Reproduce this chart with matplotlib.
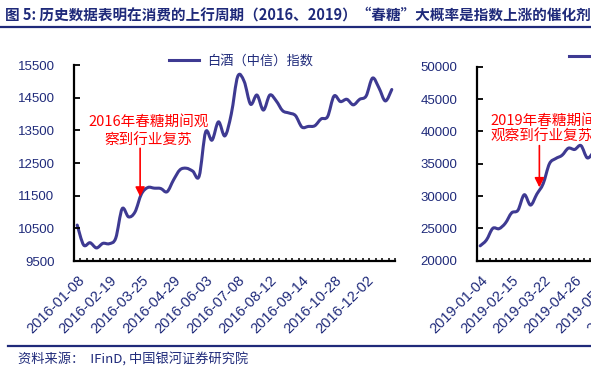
"""Baijiu index around the spring sugar & wine fair, 2016 vs 2019."""

import matplotlib
matplotlib.use("Agg")
import matplotlib.pyplot as plt
from matplotlib.lines import Line2D
from matplotlib.patches import PathPatch
from matplotlib.path import Path
from matplotlib.ticker import FixedLocator, MultipleLocator

NAVY = "#1F2A7A"
LINE = "#3E3A92"
CJK = ["Noto Sans CJK SC", "DejaVu Sans"]

plt.rcParams["font.family"] = ["Liberation Sans", "Noto Sans CJK SC"]

# weekly closes, 2016 (holiday weeks skipped)
idx_2016 = [
    10600, 9990, 10060, 9900, 10040, 10030, 10200, 11100, 10850, 11000,
    11550, 11750, 11730, 11720, 11620, 11980, 12290, 12340, 12250, 12100,
    13450, 13200, 13760, 13330, 14000, 15150, 15000, 14300, 14580, 14120,
    14580, 14400, 14100, 14030, 13950, 13600, 13620, 13640, 13850, 13920,
    14550, 14380, 14450, 14280, 14450, 14550, 15100, 14800, 14400, 14750,
]
labels_2016 = [
    "2016-01-08", "2016-02-19", "2016-03-25", "2016-04-29", "2016-06-03",
    "2016-07-08", "2016-08-12", "2016-09-14", "2016-10-28", "2016-12-02",
]
yticks_2016 = [9500, 10500, 11500, 12500, 13500, 14500, 15500]

# 2019: only the start of the panel is visible
idx_2019 = [
    22300, 23200, 25000, 24950, 25800, 27400, 27800, 30200, 28600, 30300,
    31900, 35000, 35800, 36300, 37400, 37200, 37800, 35900, 36800,
]
labels_2019 = [
    "2019-01-04", "2019-02-15", "2019-03-22", "2019-04-26", "2019-05-31",
    "2019-07-05",
]
yticks_2019 = [20000, 25000, 30000, 35000, 40000, 45000, 50000]
n_weeks = 50

W, H = 591, 372
fig = plt.figure(figsize=(W / 100, H / 100), dpi=100)


def px_box(x0, y_top, x1, y_bot):
    return [x0 / W, 1 - y_bot / H, (x1 - x0) / W, (y_bot - y_top) / H]


def smooth_path(values):
    # Excel-style smoothed line: cubic Bezier through every data point
    pts = list(enumerate(values))
    verts = [pts[0]]
    codes = [Path.MOVETO]
    for i in range(len(pts) - 1):
        p0 = pts[max(i - 1, 0)]
        p1, p2 = pts[i], pts[i + 1]
        p3 = pts[min(i + 2, len(pts) - 1)]
        c1 = (p1[0] + (p2[0] - p0[0]) / 6, p1[1] + (p2[1] - p0[1]) / 6)
        c2 = (p2[0] - (p3[0] - p1[0]) / 6, p2[1] - (p3[1] - p1[1]) / 6)
        verts += [c1, c2, p2]
        codes += [Path.CURVE4] * 3
    return Path(verts, codes)


def style_axes(ax, values, labels, yticks):
    ax.add_patch(PathPatch(smooth_path(values), fill=False, edgecolor=LINE,
                           lw=2.2, capstyle="round", joinstyle="round"))
    ax.set_xlim(-0.5, n_weeks - 0.5)
    ax.set_ylim(yticks[0], yticks[-1])
    for side in ("top", "right"):
        ax.spines[side].set_visible(False)
    for side in ("left", "bottom"):
        ax.spines[side].set_linewidth(1.6)
    ax.yaxis.set_major_locator(FixedLocator(yticks))
    ax.tick_params(axis="y", direction="in", length=4, width=1.3,
                   pad=14, labelsize=9.5, labelcolor=NAVY)
    ax.xaxis.set_major_locator(FixedLocator(range(0, 5 * len(labels), 5)))
    ax.set_xticklabels(labels)
    ax.xaxis.set_minor_locator(MultipleLocator(1, offset=0.5))
    ax.tick_params(axis="x", which="major", length=0, pad=9,
                   labelsize=10.5, labelcolor=NAVY)
    ax.tick_params(axis="x", which="minor", direction="in",
                   length=2.5, width=1.1)
    for t in ax.get_xticklabels():
        t.set_rotation(45)
        t.set_ha("right")
        t.set_va("top")
        t.set_rotation_mode("anchor")


ax1 = fig.add_axes(px_box(74, 65, 395, 261))
style_axes(ax1, idx_2016, labels_2016, yticks_2016)

ax2 = fig.add_axes(px_box(477, 66.7, 792, 260.7))
style_axes(ax2, idx_2019, labels_2019, yticks_2019)

for ax, xc, yc in ((ax1, 0.52, 1.022), (ax2, 0.52, 1.05)):
    handle = Line2D([], [], color=LINE, lw=2.2)
    leg = ax.legend([handle], ["白酒（中信）指数"], loc="center",
                    bbox_to_anchor=(xc, yc), frameon=False, handlelength=2.3,
                    handletextpad=0.6, prop={"family": CJK, "size": 9.5})
    for t in leg.get_texts():
        t.set_color(NAVY)

# annotations
ax1.text(0.232, 0.662, "2016年春糖期间观\n察到行业复苏", transform=ax1.transAxes,
         ha="center", va="center", color="red", fontsize=10.5, family=CJK,
         linespacing=1.4)
ax1.annotate("", xy=(9.8, 11470), xytext=(9.8, 12950),
             arrowprops=dict(arrowstyle="-|>", color="red", lw=1.2,
                             mutation_scale=14, shrinkA=0, shrinkB=0))

ax2.text(0.043, 0.68, "2019年春糖期间\n观察到行业复苏", transform=ax2.transAxes,
         ha="left", va="center", color="red", fontsize=10.5, family=CJK,
         linespacing=1.2)
ax2.annotate("", xy=(9.4, 31340), xytext=(9.4, 37800),
             arrowprops=dict(arrowstyle="-|>", color="red", lw=1.2,
                             mutation_scale=14, shrinkA=0, shrinkB=0))

# header, rules and source
fig.text(5 / W, 1 - 15 / H,
         "图 5: 历史数据表明在消费的上行周期（2016、2019）“春糖”大概率是指数上涨的催化剂",
         ha="left", va="center", fontsize=10.5, fontweight="bold",
         color=NAVY, family=CJK)
fig.add_artist(Line2D([0, 1], [1 - 26.5 / H] * 2, color=NAVY, lw=1.6))
fig.add_artist(Line2D([8 / W, 1], [1 - 346 / H] * 2, color=NAVY, lw=1.6))
fig.text(18 / W, 1 - 360 / H, "资料来源：  IFinD, 中国银河证券研究院",
         ha="left", va="center", fontsize=9.5, style="italic",
         color=NAVY, family=CJK)

fig.savefig("out.png", dpi=100, facecolor="white")
